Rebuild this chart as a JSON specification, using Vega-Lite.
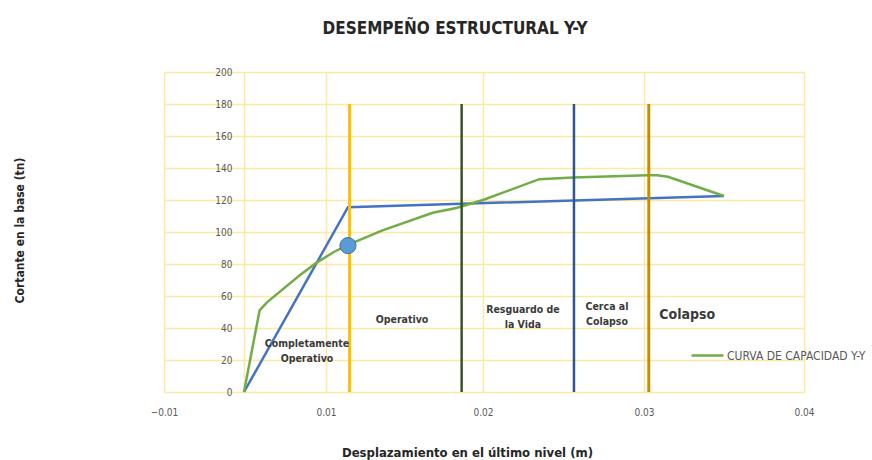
{
  "$schema": "https://vega.github.io/schema/vega-lite/v6.json",
  "autosize": {"type": "none"},
  "padding": {"left": 164, "top": 72, "right": 68, "bottom": 68},
  "width": 640,
  "height": 320,
  "background": "white",
  "config": {
    "view": {"stroke": null},
    "font": "Liberation Sans Narrow, DejaVu Sans Condensed, sans-serif"
  },
  "title": {
    "text": "DESEMPEÑO ESTRUCTURAL Y-Y",
    "font": "Liberation Sans Narrow, DejaVu Sans Condensed, sans-serif",
    "fontSize": 17,
    "fontWeight": "bold",
    "color": "#262626",
    "anchor": "middle",
    "dx": -29,
    "offset": 29
  },
  "datasets": {
    "curva": [
      {"x": 0, "y": 0, "serie": "CURVA DE CAPACIDAD Y-Y"},
      {"x": 0.0019, "y": 51, "serie": "CURVA DE CAPACIDAD Y-Y"},
      {"x": 0.0028, "y": 56, "serie": "CURVA DE CAPACIDAD Y-Y"},
      {"x": 0.0068, "y": 73, "serie": "CURVA DE CAPACIDAD Y-Y"},
      {"x": 0.0089, "y": 81, "serie": "CURVA DE CAPACIDAD Y-Y"},
      {"x": 0.0105, "y": 87.5, "serie": "CURVA DE CAPACIDAD Y-Y"},
      {"x": 0.0114, "y": 92, "serie": "CURVA DE CAPACIDAD Y-Y"},
      {"x": 0.0136, "y": 101, "serie": "CURVA DE CAPACIDAD Y-Y"},
      {"x": 0.0168, "y": 112, "serie": "CURVA DE CAPACIDAD Y-Y"},
      {"x": 0.0183, "y": 115, "serie": "CURVA DE CAPACIDAD Y-Y"},
      {"x": 0.02, "y": 120, "serie": "CURVA DE CAPACIDAD Y-Y"},
      {"x": 0.0235, "y": 133, "serie": "CURVA DE CAPACIDAD Y-Y"},
      {"x": 0.0256, "y": 134, "serie": "CURVA DE CAPACIDAD Y-Y"},
      {"x": 0.0302, "y": 135.5, "serie": "CURVA DE CAPACIDAD Y-Y"},
      {"x": 0.0308, "y": 135.5, "serie": "CURVA DE CAPACIDAD Y-Y"},
      {"x": 0.0315, "y": 134.5, "serie": "CURVA DE CAPACIDAD Y-Y"},
      {"x": 0.035, "y": 122.5, "serie": "CURVA DE CAPACIDAD Y-Y"}
    ],
    "bilineal": [
      {"x": 0, "y": 0},
      {"x": 0.0114, "y": 115.5},
      {"x": 0.035, "y": 122.5}
    ],
    "limites": [
      {"limite": "Operacional", "x": 0.0115, "y": 0, "y2": 180},
      {"limite": "Resguardo", "x": 0.01864, "y": 0, "y2": 180},
      {"limite": "Cerca", "x": 0.02565, "y": 0, "y2": 180},
      {"limite": "Colapso", "x": 0.0303, "y": 0, "y2": 180}
    ],
    "punto": [{"x": 0.0114, "y": 91.5}],
    "zonas": [
      {"texto": "Completamente\nOperativo", "x": 0.00768, "y": 30},
      {"texto": "Operativo", "x": 0.01484, "y": 45},
      {"texto": "Resguardo de\nla Vida", "x": 0.02248, "y": 51},
      {"texto": "Cerca al\nColapso", "x": 0.0277, "y": 53}
    ],
    "zonaColapso": [{"texto": "Colapso", "x": 0.0327, "y": 48}]
  },
  "encoding": {
    "x": {
      "field": "x",
      "type": "quantitative",
      "scale": {
        "domain": [-0.01, 0, 0.01, 0.02, 0.03, 0.04],
        "range": [0, 80, 162, 319, 480, 640],
        "nice": false,
        "zero": false
      },
      "axis": {
        "title": "Desplazamiento en el último nivel (m)",
        "titleFont": "Liberation Sans Narrow, DejaVu Sans Condensed, sans-serif",
        "titleFontSize": 13,
        "titleFontWeight": "bold",
        "titleColor": "#262626",
        "titleX": 303,
        "titleY": 60,
        "titleAnchor": null,
        "titleAlign": "center",
        "titleBaseline": "middle",
        "values": [-0.01, 0, 0.01, 0.02, 0.03, 0.04],
        "format": ".2f",
        "labelExpr": "datum.value == 0 ? '' : datum.label",
        "labelFont": "Liberation Sans Narrow, DejaVu Sans Condensed, sans-serif",
        "labelFontSize": 10,
        "labelColor": "#595959",
        "labelPadding": 15,
        "labelFlush": false,
        "labelOverlap": false,
        "ticks": false,
        "domain": false,
        "grid": true,
        "gridColor": "#FFE8A3",
        "gridWidth": 1.5
      }
    },
    "y": {
      "field": "y",
      "type": "quantitative",
      "scale": {"domain": [0, 200], "nice": false},
      "axis": {
        "title": "Cortante en la base (tn)",
        "titleFont": "Liberation Sans Narrow, DejaVu Sans Condensed, sans-serif",
        "titleFontSize": 12,
        "titleFontWeight": "bold",
        "titleColor": "#262626",
        "titleAngle": -90,
        "titleX": -225,
        "titleY": 158,
        "titleAnchor": null,
        "titleAlign": "center",
        "titleBaseline": "middle",
        "offset": -80,
        "values": [0, 20, 40, 60, 80, 100, 120, 140, 160, 180, 200],
        "labelFont": "Liberation Sans Narrow, DejaVu Sans Condensed, sans-serif",
        "labelFontSize": 10,
        "labelColor": "#595959",
        "labelPadding": 12,
        "labelFlush": false,
        "ticks": false,
        "domain": false,
        "grid": true,
        "gridColor": "#FFE8A3",
        "gridWidth": 1.5
      }
    }
  },
  "layer": [
    {
      "data": {"name": "bilineal"},
      "mark": {"type": "line", "color": "#4472C4", "strokeWidth": 2.5},
      "encoding": {}
    },
    {
      "data": {"name": "curva"},
      "mark": {"type": "line", "strokeWidth": 2.5},
      "encoding": {
        "color": {
          "field": "serie",
          "type": "nominal",
          "scale": {"domain": ["CURVA DE CAPACIDAD Y-Y"], "range": ["#70AD47"]},
          "legend": {
            "title": null,
            "orient": "none",
            "legendX": 526,
            "legendY": 266,
            "padding": 0,
            "symbolType": "stroke",
            "symbolSize": 1024,
            "symbolStrokeWidth": 2.5,
            "labelOffset": 2,
            "labelFont": "Liberation Sans Narrow, DejaVu Sans Condensed, sans-serif",
            "labelFontSize": 12,
            "labelColor": "#595959",
            "labelLimit": 300
          }
        }
      }
    },
    {
      "data": {"name": "limites"},
      "transform": [{"filter": "datum.limite == 'Operacional'"}],
      "mark": {"type": "rule", "color": "#FFC000", "strokeWidth": 3},
      "encoding": {"y2": {"field": "y2"}}
    },
    {
      "data": {"name": "limites"},
      "transform": [{"filter": "datum.limite == 'Resguardo'"}],
      "mark": {"type": "rule", "color": "#375623", "strokeWidth": 2.5},
      "encoding": {"y2": {"field": "y2"}}
    },
    {
      "data": {"name": "limites"},
      "transform": [{"filter": "datum.limite == 'Cerca'"}],
      "mark": {"type": "rule", "color": "#2F5597", "strokeWidth": 2.5},
      "encoding": {"y2": {"field": "y2"}}
    },
    {
      "data": {"name": "limites"},
      "transform": [{"filter": "datum.limite == 'Colapso'"}],
      "mark": {"type": "rule", "color": "#BF9000", "strokeWidth": 3},
      "encoding": {"y2": {"field": "y2"}}
    },
    {
      "data": {"name": "punto"},
      "mark": {"type": "point", "filled": true, "size": 260, "color": "#5B9BD5", "stroke": "#41719C", "strokeWidth": 1, "opacity": 1},
      "encoding": {}
    },
    {
      "data": {"name": "zonas"},
      "mark": {"type": "text", "font": "Liberation Sans Narrow, DejaVu Sans Condensed, sans-serif", "fontSize": 10.5, "fontWeight": "bold", "color": "#3A3A3A", "lineBreak": "\n", "lineHeight": 15, "align": "center", "baseline": "middle"},
      "encoding": {"text": {"field": "texto"}}
    },
    {
      "data": {"name": "zonaColapso"},
      "mark": {"type": "text", "font": "Liberation Sans Narrow, DejaVu Sans Condensed, sans-serif", "fontSize": 14, "fontWeight": "bold", "color": "#3A3A3A", "align": "center", "baseline": "middle"},
      "encoding": {"text": {"field": "texto"}}
    }
  ]
}
